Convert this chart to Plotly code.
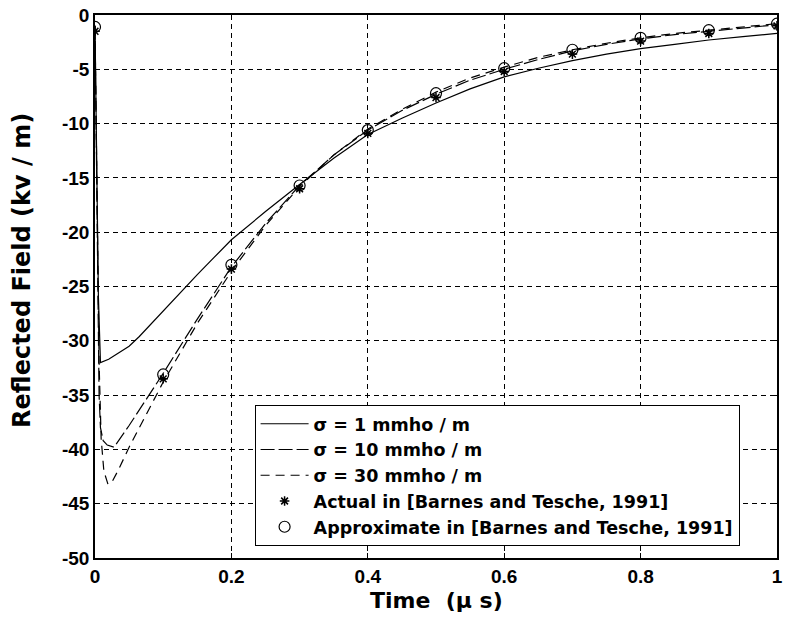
import plotly.graph_objects as go

# ---- data ----
t_s1 = [0, 0.002, 0.005, 0.008, 0.02, 0.035, 0.05, 0.065, 0.08, 0.1, 0.125, 0.15, 0.175, 0.2, 0.25, 0.3, 0.35,
        0.4, 0.45, 0.5, 0.55, 0.6, 0.65, 0.7, 0.75, 0.8, 0.85, 0.9, 0.95, 1.0]
e_s1 = [-1, -12, -26, -32, -31.7, -31.1, -30.5, -29.6, -28.6, -27.2, -25.5, -23.9, -22.3, -20.7, -18.1, -15.6, -13.2,
        -11.0, -9.5, -8.1, -6.8, -5.7, -4.9, -4.2, -3.6, -3.1, -2.7, -2.3, -2.0, -1.7]

t_s10 = [0, 0.002, 0.004, 0.006, 0.008, 0.012, 0.018, 0.028, 0.05, 0.1, 0.15, 0.2, 0.25, 0.3, 0.35,
         0.4, 0.45, 0.5, 0.55, 0.6, 0.65, 0.7, 0.75, 0.8, 0.85, 0.9, 0.95, 1.0]
e_s10 = [-1, -12, -25, -35, -38, -39.2, -39.6, -39.8, -37.8, -33.0, -28.0, -23.2, -19.2, -15.7, -12.9,
         -10.6, -8.8, -7.3, -6.0, -5.0, -4.1, -3.3, -2.7, -2.2, -1.8, -1.5, -1.2, -0.9]

t_s30 = [0, 0.003, 0.006, 0.009, 0.013, 0.019, 0.025, 0.035, 0.05, 0.1, 0.15, 0.2, 0.25, 0.3, 0.35,
         0.4, 0.45, 0.5, 0.55, 0.6, 0.65, 0.7, 0.75, 0.8, 0.85, 0.9, 0.95, 1.0]
e_s30 = [-1, -15, -32, -39, -42, -43.2, -43.0, -41.8, -39.8, -33.8, -28.4, -23.6, -19.4, -15.8, -12.9,
         -10.5, -8.7, -7.1, -5.8, -4.8, -3.9, -3.2, -2.6, -2.1, -1.7, -1.4, -1.1, -0.8]

t_ref = [0, 0.1, 0.2, 0.3, 0.4, 0.5, 0.6, 0.7, 0.8, 0.9, 1.0]
e_actual = [-1.5, -33.5, -23.4, -16.0, -10.9, -7.6, -5.2, -3.6, -2.4, -1.7, -1.0]
e_approx = [-1.1, -33.1, -23.0, -15.7, -10.6, -7.2, -4.9, -3.2, -2.1, -1.4, -0.8]

x_ticks = [0, 0.2, 0.4, 0.6, 0.8, 1]
x_labels = ["0", "0.2", "0.4", "0.6", "0.8", "1"]
y_ticks = [0, -5, -10, -15, -20, -25, -30, -35, -40, -45, -50]
y_labels = ["0", "-5", "-10", "-15", "-20", "-25", "-30", "-35", "-40", "-45", "-50"]

TICK_FONT = "Liberation Sans, Arial, sans-serif"
TEXT_FONT = "DejaVu Sans, Liberation Sans, sans-serif"

fig = go.Figure()
fig.add_trace(go.Scatter(x=t_s1, y=e_s1, mode="lines", name="σ = 1 mmho / m",
                         line=dict(color="black", width=1.2, dash="solid")))
fig.add_trace(go.Scatter(x=t_s10, y=e_s10, mode="lines", name="σ = 10 mmho / m",
                         line=dict(color="black", width=1.2, dash="14px,4px")))
fig.add_trace(go.Scatter(x=t_s30, y=e_s30, mode="lines", name="σ = 30 mmho / m",
                         line=dict(color="black", width=1.2, dash="9px,6px")))
fig.add_trace(go.Scatter(x=t_ref, y=e_actual, mode="markers", name="Actual in [Barnes and Tesche, 1991]",
                         marker=dict(symbol="asterisk-open", size=8, color="black",
                                     line=dict(color="black", width=1.5))))
fig.add_trace(go.Scatter(x=t_ref, y=e_approx, mode="markers", name="Approximate in [Barnes and Tesche, 1991]",
                         marker=dict(symbol="circle-open", size=11, color="black",
                                     line=dict(color="black", width=1.2))))

axis_common = dict(showline=True, linecolor="black", linewidth=1.5, mirror="ticks",
                   ticks="inside", ticklen=5, tickcolor="black",
                   showgrid=True, gridcolor="black", gridwidth=1, griddash="5px,4px",
                   zeroline=False,
                   tickfont=dict(family=TICK_FONT, size=19, color="black", weight="bold"))

fig.update_xaxes(range=[0, 1], tickvals=x_ticks, ticktext=x_labels, **axis_common)
fig.update_yaxes(range=[-50, 0], tickvals=y_ticks, ticktext=y_labels, **axis_common)

fig.add_annotation(text="Time\u00a0\u00a0(μ s)", xref="paper", yref="paper",
                   x=0.5, y=-0.078, xanchor="center", yanchor="middle", showarrow=False,
                   font=dict(family=TEXT_FONT, size=22, color="black", weight="bold"))
fig.add_annotation(text="Reflected Field (kv / m)", xref="paper", yref="paper",
                   x=-0.106, y=0.53, xanchor="center", yanchor="middle", showarrow=False,
                   textangle=-90,
                   font=dict(family=TEXT_FONT, size=24, color="black", weight="bold"))

fig.update_layout(
    width=788, height=622,
    margin=dict(l=95, r=5, t=15, b=64),
    paper_bgcolor="white", plot_bgcolor="white",
    showlegend=True,
    legend=dict(x=0.234, y=0.282, xanchor="left", yanchor="top",
                bgcolor="white", bordercolor="black", borderwidth=1, itemwidth=48,
                font=dict(family=TEXT_FONT, size=17.5, color="black", weight="bold")),
)

fig.write_html("out.html")
